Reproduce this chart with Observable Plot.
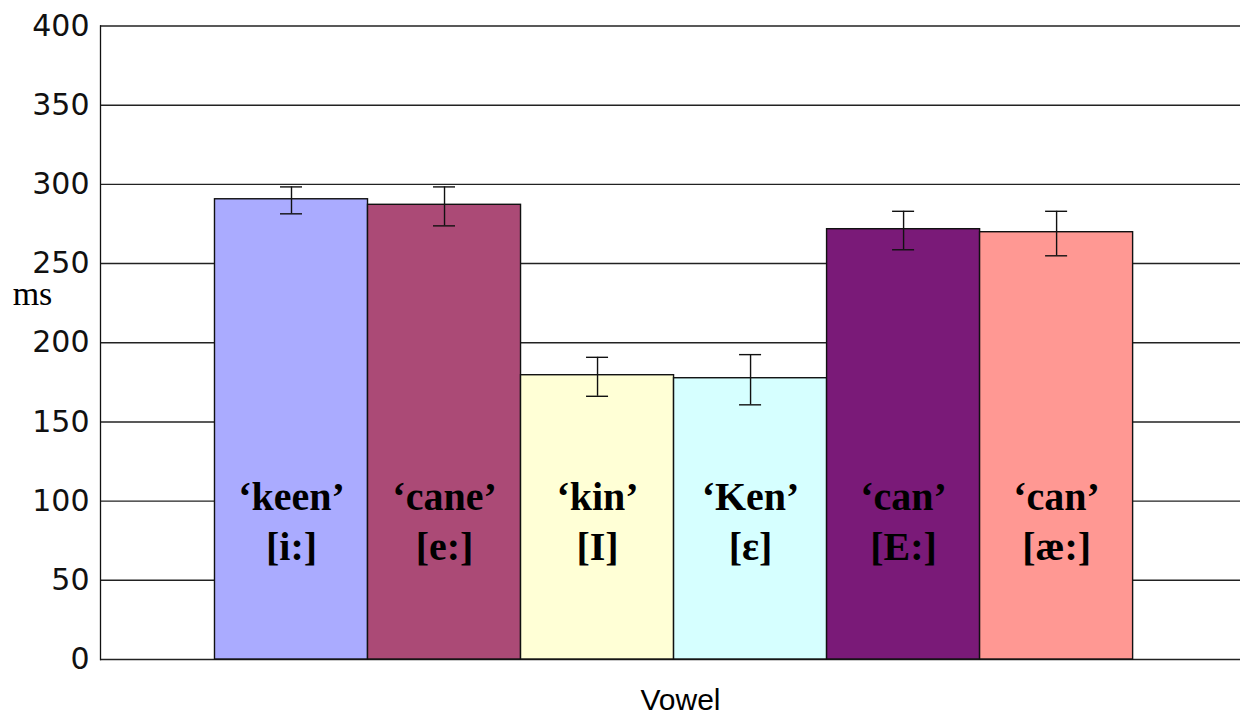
<!DOCTYPE html>
<html>
<head>
<meta charset="utf-8">
<script src="https://cdn.jsdelivr.net/npm/d3@7"></script>
<script src="https://cdn.jsdelivr.net/npm/@observablehq/plot@0.6"></script>
<style>
  html, body { margin: 0; padding: 0; background: #fff; }
  #chart svg { display: block; }
</style>
</head>
<body>
<div id="chart"></div>
<script>
// Data
const words    = ["‘keen’", "‘cane’", "‘kin’", "‘Ken’", "‘can’", "‘can’"];
const vowels   = ["[i:]", "[e:]", "[I]", "[ε]", "[E:]", "[æ:]"];
const means    = [290.6, 287.1, 179.5, 177.6, 271.7, 269.8];
const errLow   = [281.4, 273.8, 166.2, 160.8, 258.7, 254.9];
const errHigh  = [298.4, 298.4, 190.8, 192.5, 283.0, 283.0];
const colors   = ["#AAABFF", "#AB4A76", "#FFFFD6", "#D6FFFF", "#7A1A78", "#FF9893"];
const yTicks   = [0, 50, 100, 150, 200, 250, 300, 350, 400];
const yLabel   = "ms";
const yLabelAt = [228];
const xLabel   = "Vowel";

const keys = words.map((w, i) => i);
const data = keys.map(i => ({
  key: i, word: words[i], vowel: vowels[i], mean: means[i],
  lo: errLow[i], hi: errHigh[i], color: colors[i],
  label: words[i] + "\n" + vowels[i]
}));

const chart = Plot.plot({
  width: 1240,
  height: 714,
  marginTop: 25.5,
  marginBottom: 55,
  marginLeft: 100,
  marginRight: 0,
  style: { background: "#fff", overflow: "visible" },
  x: { type: "band", domain: keys, paddingInner: 0, paddingOuter: 0.725, align: 0.516, round: false, axis: null },
  y: { domain: [0, 400], axis: null },
  color: { type: "identity" },
  marks: [
    Plot.ruleY(yTicks, { stroke: "#222", strokeWidth: 1.4 }),
    Plot.axisY({ ticks: yTicks, tickSize: 9, tickPadding: 2, label: null,
      fontSize: 30, fontFamily: "DejaVu Sans", stroke: null, fill: "#111", tickFormat: d => String(d) }),
    Plot.frame({ anchor: "left", stroke: "#111", strokeWidth: 1.3 }),
    Plot.barY(data, { x: "key", y: "mean", fill: "color", stroke: "#111", strokeWidth: 1.4 }),
    Plot.ruleX(data, { x: "key", y1: "lo", y2: "hi", stroke: "#111", strokeWidth: 1.4 }),
    Plot.tickY(data, { x: "key", y: "lo", stroke: "#111", strokeWidth: 1.4, insetLeft: 65.5, insetRight: 65.5 }),
    Plot.tickY(data, { x: "key", y: "hi", stroke: "#111", strokeWidth: 1.4, insetLeft: 65.5, insetRight: 65.5 }),
    Plot.text(data, { x: "key", text: "label", frameAnchor: "bottom", dy: -140.1,
      lineAnchor: "middle", lineHeight: 1.25, fontSize: 40, fontWeight: "bold",
      fontFamily: "Liberation Serif, Times New Roman, serif", fill: "#000" }),
    Plot.text([yLabel], { y: yLabelAt, text: d => d, frameAnchor: "left", dx: -68, textAnchor: "middle",
      fontSize: 34, fontFamily: "Liberation Serif, Times New Roman, serif", fill: "#000", lineAnchor: "bottom", dy: 7 }),
    Plot.text([xLabel], { text: d => d, frameAnchor: "bottom", dx: 10, dy: 41,
      fontSize: 30, fontFamily: "Liberation Sans, Arial, sans-serif", fill: "#000", lineAnchor: "middle" })
  ]
});

document.getElementById("chart").appendChild(chart);
</script>
</body>
</html>
